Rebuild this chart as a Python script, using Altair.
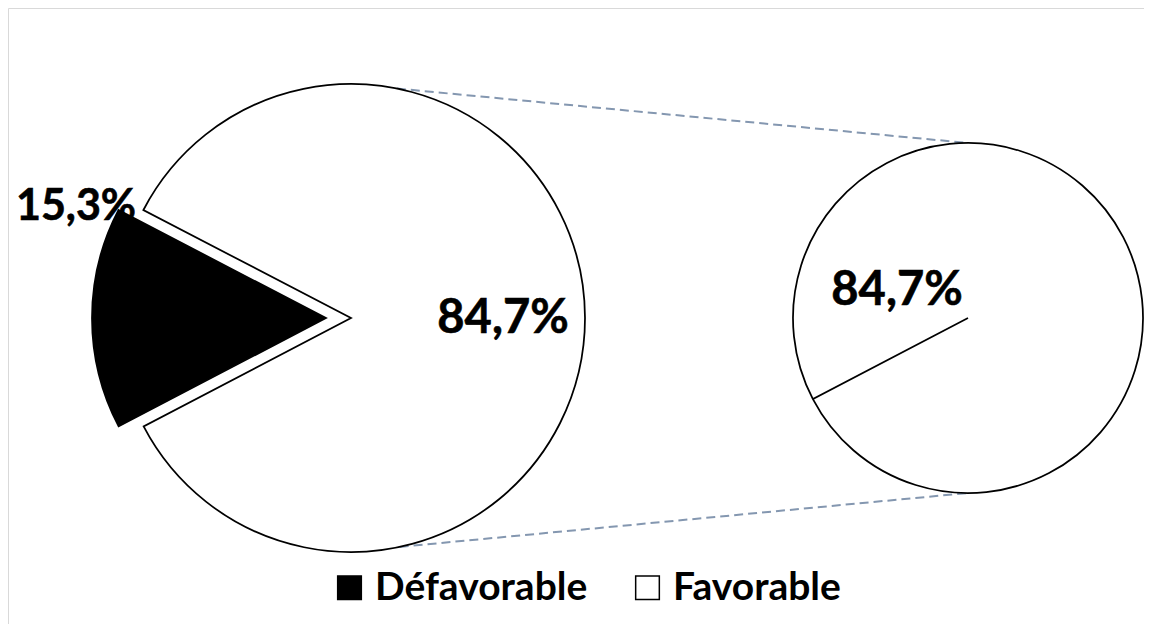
import math
import altair as alt
import pandas as pd

# ---- data ----
categories = ["Défavorable", "Favorable"]
shares = [15.3, 84.7]
second_categories = ["Favorable"]
second_shares = [84.7]

# ---- layout (pixels inside the chart) ----
W, H = 1136, 616
C1X, C1Y, R1 = 343, 310, 234
EXPLODE = 25
C2X, C2Y, R2 = 960, 310, 175
START = math.radians(242.4)
FONT = "Lato"


def fmt(v):
    return f"{v:.1f}".replace(".", ",") + "%"


# primary pie
total = sum(shares)
rows = []
acc = 0.0
for c, v in zip(categories, shares):
    t0 = START + 2 * math.pi * acc / total
    t1 = START + 2 * math.pi * (acc + v) / total
    acc += v
    ex = EXPLODE if c == "Défavorable" else 0
    mid = (t0 + t1) / 2
    rows.append(dict(cat=c, value=v, t0=t0, t1=t1,
                     cx=C1X + ex * math.sin(mid), cy=C1Y - ex * math.cos(mid)))
primary = pd.DataFrame(rows)

# secondary pie (single slice)
tot2 = sum(second_shares)
rows2 = []
acc = 0.0
for c, v in zip(second_categories, second_shares):
    t0 = START + 2 * math.pi * acc / tot2
    t1 = START + 2 * math.pi * (acc + v) / tot2 - 1e-6
    acc += v
    rows2.append(dict(cat=c, value=v, t0=t0, t1=t1, cx=C2X, cy=C2Y))
secondary = pd.DataFrame(rows2)

# connector lines
a_top, a_bot = math.radians(11.3), math.radians(168.0)
conn = pd.DataFrame([
    dict(x=C1X + R1 * math.sin(a_top), y=C1Y - R1 * math.cos(a_top), x2=C2X, y2=C2Y - R2),
    dict(x=C1X + R1 * math.sin(a_bot), y=C1Y - R1 * math.cos(a_bot), x2=C2X, y2=C2Y + R2),
])

# labels
labels = pd.DataFrame([
    dict(text=fmt(shares[0]), x=68, y=212, size=43),
    dict(text=fmt(shares[1]), x=495, y=325, size=47),
    dict(text=fmt(second_shares[0]), x=889, y=297, size=47),
])

fill_scale = alt.Scale(domain=categories, range=["black", "white"])

connectors = alt.Chart(conn).mark_rule(
    color="#8497b0", strokeWidth=2, strokeDash=[9, 5]
).encode(
    x=alt.X("x:Q", scale=None), y=alt.Y("y:Q", scale=None),
    x2="x2:Q", y2="y2:Q",
)

pie1 = alt.Chart(primary).mark_arc(radius=R1, stroke="black", strokeWidth=1.75).encode(
    x=alt.X("cx:Q", scale=None), y=alt.Y("cy:Q", scale=None),
    theta=alt.Theta("t0:Q", scale=None, stack=False), theta2="t1:Q",
    fill=alt.Fill("cat:N", scale=fill_scale, legend=alt.Legend(
        title=None, orient="none", direction="horizontal",
        legendX=322, legendY=560,
        symbolType="square", symbolSize=560,
        symbolStrokeColor="black", symbolStrokeWidth=1.5,
        labelFont=FONT, labelFontSize=39, labelFontWeight="bold",
        labelColor="black", labelOffset=6, columnPadding=40,
        labelLimit=400,
    )),
)

pie2 = alt.Chart(secondary).mark_arc(radius=R2, stroke="black", strokeWidth=1.75).encode(
    x=alt.X("cx:Q", scale=None), y=alt.Y("cy:Q", scale=None),
    theta=alt.Theta("t0:Q", scale=None, stack=False), theta2="t1:Q",
    fill=alt.Fill("cat:N", scale=fill_scale),
)

text = alt.Chart(labels).mark_text(
    font=FONT, fontWeight="bold", color="black", align="center", baseline="alphabetic",
    stroke="black", strokeWidth=0.6,
).encode(
    x=alt.X("x:Q", scale=None), y=alt.Y("y:Q", scale=None),
    text="text:N", size=alt.Size("size:Q", scale=None),
)

chart = alt.layer(connectors, pie1, pie2, text).properties(
    width=W, height=H, padding=0, autosize="none", background="white"
).configure_view(stroke="#d9d9d9", strokeWidth=1)

chart.save("out.html", embed_options={"renderer": "svg", "actions": False})
